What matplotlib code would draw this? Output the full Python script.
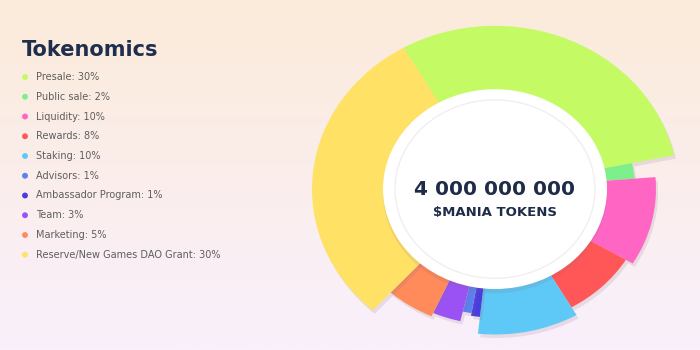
import numpy as np
import matplotlib
matplotlib.use('Agg')
from matplotlib import pyplot as plt
from matplotlib import patheffects as pe
from matplotlib.patches import Ellipse

labels = ['Presale', 'Public sale', 'Liquidity', 'Rewards', 'Staking', 'Advisors',
          'Ambassador Program', 'Team', 'Marketing', 'Reserve/New Games DAO Grant']
shares = [30, 2, 10, 8, 10, 1, 1, 3, 5, 30]
# outer radius of each slice (horizontal pixels)
outer = [183, 140, 161, 153, 163, 141, 144, 152, 156, 183]
colors = ['#c4fb64', '#7def8b', '#ff66c4', '#ff5757', '#5ec8f6', '#5b80f0',
          '#4a3de0', '#9a52f5', '#ff8a5a', '#ffe265']
# order of the slices round the ring (ambassador sits next to staking)
ring_order = [0, 1, 2, 3, 4, 6, 5, 7, 8, 9]

total_text = '4 000 000 000'
unit_text = '$MANIA TOKENS'
title = 'Tokenomics'
start_deg = -30

fig = plt.figure(figsize=(7, 3.5), dpi=100)

# background gradient
bg = fig.add_axes([0, 0, 1, 1])
grad = np.linspace(0, 1, 256).reshape(-1, 1)
top = np.array([252, 235, 218]) / 255
bot = np.array([249, 240, 252]) / 255
img = top + (bot - top) * grad[:, :, None]
bg.imshow(img, aspect='auto', extent=[0, 700, 350, 0])
bg.set_xlim(0, 700)
bg.set_ylim(350, 0)
bg.axis('off')

bg.text(22, 50, title, fontsize=15, fontweight='bold', color='#1e2e4c', va='center')
for i, (lab, s, c) in enumerate(zip(labels, shares, colors)):
    y = 77 + i * 19.75
    bg.scatter(25, y, s=18, color=c, edgecolor='none')
    bg.text(36, y, f'{lab}: {s}%', fontsize=7, color='#5e5e5e', va='center')

# pie with variable radius
ax = fig.add_axes([305 / 700, -8.6 / 350, 380 / 700, 339 / 350], projection='polar')
ax.set_aspect('auto')
ax.set_theta_zero_location('N')
ax.set_theta_direction(-1)
sh = np.array([shares[k] for k in ring_order])
rad = [outer[k] for k in ring_order]
col = [colors[k] for k in ring_order]
widths = sh / 100 * 2 * np.pi
starts = np.deg2rad(start_deg) + np.concatenate([[0], np.cumsum(widths)[:-1]])
bars = ax.bar(starts, rad, width=widths, bottom=0, align='edge', color=col,
              edgecolor='none')
shadow = [pe.SimplePatchShadow(offset=(1.5, -2.5), shadow_rgbFace='#8a7080', alpha=0.16),
          pe.Normal()]
for b in bars:
    b.set_path_effects(shadow)
ax.set_ylim(0, 190)
ax.set_axis_off()

disc = Ellipse((0.5, 0.5), 2 * 112 / 380, 2 * 112 / 380, transform=ax.transAxes,
               facecolor='white', edgecolor='none', zorder=5,
               path_effects=[pe.SimplePatchShadow(offset=(0, -3), shadow_rgbFace='#806070', alpha=0.12),
                             pe.Normal()])
ax.add_artist(disc)
ring = Ellipse((0.5, 0.5), 2 * 100 / 380, 2 * 100 / 380, transform=ax.transAxes,
               facecolor='none', edgecolor='#f1eef2', lw=1, zorder=6)
ax.add_artist(ring)

ax.text(0.5, 0.5, total_text, transform=ax.transAxes, ha='center', va='center',
        fontsize=14.5, fontweight='bold', color='#1f2c48', zorder=7)
ax.text(0.5, 0.43, unit_text, transform=ax.transAxes, ha='center', va='center',
        fontsize=9.5, fontweight='bold', color='#1f2c48', zorder=7)

fig.savefig('out.png', dpi=100)
